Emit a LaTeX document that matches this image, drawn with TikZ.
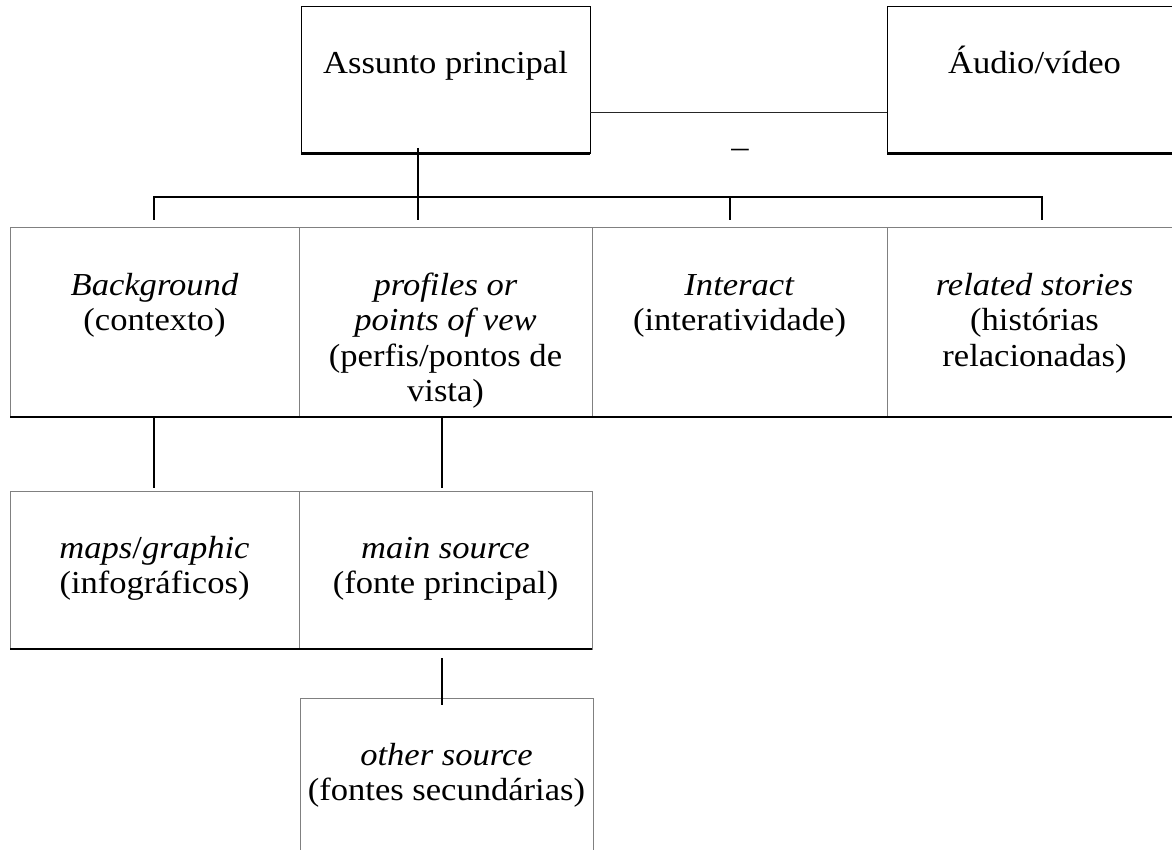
\documentclass[tikz,border=0pt]{standalone}
\usepackage{fontspec}
\setmainfont{Liberation Serif}[FakeStretch=1.08]
\usetikzlibrary{calc}
\definecolor{bgray}{RGB}{128,128,128}
\begin{document}
\begin{tikzpicture}[x=1pt,y=-1pt,
  cell/.style={draw=bgray, line width=1pt, inner sep=0pt, outer sep=0pt, minimum width=#1},
  topcell/.style={draw=black, line width=1pt, inner sep=0pt, outer sep=0pt, minimum width=#1, minimum height=147pt},
  txt/.style={font=\fontsize{32}{35.5}\selectfont, align=center, inner sep=0pt, anchor=base, yshift={-67pt-(#1-1)*35.5pt}},
  txt/.default=1,
  heavy/.style={line width=3pt, black},
  under/.style={line width=2pt, black},
  conn/.style={line width=1.8pt, black},
  link/.style={line width=1pt, black!85}]
\useasboundingbox (0,0) rectangle (1172,850);
% top row
\node[topcell=289pt] (top) at (445.5,80.5) {};
\node[topcell=295pt] (av) at (1034.5,80.5) {};
\draw[heavy] (top.south west) -- (top.south east);
\draw[heavy] (av.south west) -- (av.south east);
\node[txt] at (top.north) {Assunto principal};
\node[txt] at (av.north) {Áudio/vídeo};
\coordinate (lk) at (0,113);
\draw[link] (top.east |- lk) -- (av.west |- lk);
\node[font=\fontsize{32}{35.5}\selectfont, inner sep=0pt, anchor=base] (dash) at (740,158) {–};
% second row
\node[cell=289pt, minimum height=189pt] (bg) at (154.5,322.5) {};
\node[cell=293pt, minimum height=189pt] (pv) at (445.5,322.5) {};
\node[cell=295pt, minimum height=189pt] (ia) at (739.5,322.5) {};
\node[cell=295pt, minimum height=189pt] (rs) at (1034.5,322.5) {};
\draw[under] (bg.south west) -- (rs.south east);
\node[txt=2] at (bg.north) {\textit{Background}\\(contexto)};
\node[txt=4] at (pv.north) {\textit{profiles or}\\\textit{points of vew}\\(perfis/pontos de\\vista)};
\node[txt=2] at (ia.north) {\textit{Interact}\\(interatividade)};
\node[txt=3] at (rs.north) {\textit{related stories}\\(histórias\\relacionadas)};
% third row
\node[cell=289pt, minimum height=158pt] (mg) at (154.5,570) {};
\node[cell=293pt, minimum height=158pt] (ms) at (445.5,570) {};
\draw[under] (mg.south west) -- (ms.south east);
\node[txt=2] at (mg.north) {\textit{maps}/\textit{graphic}\\(infográficos)};
\node[txt=2] at (ms.north) {\textit{main source}\\(fonte principal)};
% fourth row
\node[cell=293pt, minimum height=162pt] (os) at (446.5,779) {};
\node[txt=2] at (os.north) {\textit{other source}\\(fontes secundárias)};
% tree connectors
\coordinate (b1) at (154,197);
\coordinate (b2) at (418,197);
\coordinate (b3) at (730,197);
\coordinate (b4) at (1042,197);
\draw[conn] ($(b2 |- top.south)+(0,-6)$) -- ($(b2 |- pv.north)+(0,-8)$);
\draw[conn] ($(b1 |- bg.north)+(0,-8)$) -- (b1) -- (b4) -- ($(b4 |- rs.north)+(0,-8)$);
\draw[conn] (b3) -- ($(b3 |- ia.north)+(0,-8)$);
\coordinate (c1) at (154,0);
\coordinate (c2) at (442,0);
\draw[conn] (c1 |- bg.south) -- ($(c1 |- mg.north)+(0,-3)$);
\draw[conn] (c2 |- pv.south) -- ($(c2 |- ms.north)+(0,-3)$);
\draw[conn] ($(c2 |- ms.south)+(0,9)$) -- ($(c2 |- os.north)+(0,7)$);
\end{tikzpicture}
\end{document}
